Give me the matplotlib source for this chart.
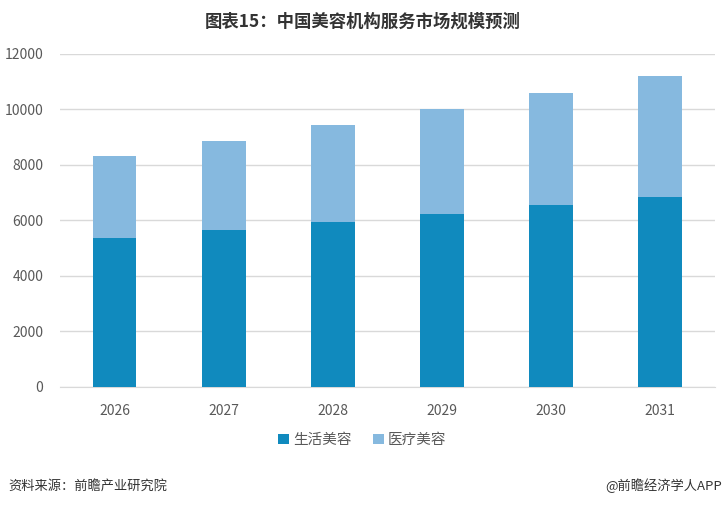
import matplotlib
matplotlib.use('Agg')
import matplotlib.pyplot as plt

plt.rcParams['font.family'] = ['Noto Sans CJK SC', 'DejaVu Sans']

years = ['2026', '2027', '2028', '2029', '2030', '2031']
life_beauty = [5380, 5660, 5950, 6240, 6560, 6850]      # 生活美容
medical_beauty = [2950, 3210, 3490, 3780, 4040, 4360]   # 医疗美容
yticks = [0, 2000, 4000, 6000, 8000, 10000, 12000]

fig = plt.figure(figsize=(7.25, 5.07), dpi=100)
ax = fig.add_axes([0.0828, 0.2367, 0.9032, 0.6568])

x = range(len(years))
ax.bar(x, life_beauty, width=0.4, color='#108ABE', label='生活美容', zorder=3)
ax.bar(x, medical_beauty, width=0.4, bottom=life_beauty, color='#86B9DF',
       label='医疗美容', zorder=3)

ax.set_xlim(-0.5, len(years) - 0.5)
ax.set_ylim(0, 12000)
ax.set_yticks(yticks)
ax.set_xticks(list(x))
ax.set_xticklabels(years)
ax.grid(axis='y', color='#d9d9d9', linewidth=1, zorder=0)
for s in ['top', 'right', 'left']:
    ax.spines[s].set_visible(False)
ax.spines['bottom'].set_color('#d9d9d9')
ax.tick_params(axis='both', length=0, labelsize=10, labelcolor='#595959')
ax.tick_params(axis='x', pad=12)
ax.tick_params(axis='y', pad=12)

fig.text(0.5, 0.958, '图表15：中国美容机构服务市场规模预测', ha='center', va='center',
         fontsize=12.5, fontweight='bold', color='#333333')

ax.legend(loc='center', bbox_to_anchor=(0.5, 1 - 440 / 507), bbox_transform=fig.transFigure,
          ncol=2, frameon=False, fontsize=10.5, handlelength=0.7, handleheight=0.7,
          handletextpad=0.3, columnspacing=1.5, labelcolor='#595959')

fig.text(0.011, 1 - 486 / 507, '资料来源：前瞻产业研究院', ha='left', va='center',
         fontsize=9.5, color='#333333')
fig.text(0.996, 1 - 486 / 507, '@前瞻经济学人APP', ha='right', va='center',
         fontsize=9.5, color='#333333')

fig.savefig('out.png', dpi=100)
